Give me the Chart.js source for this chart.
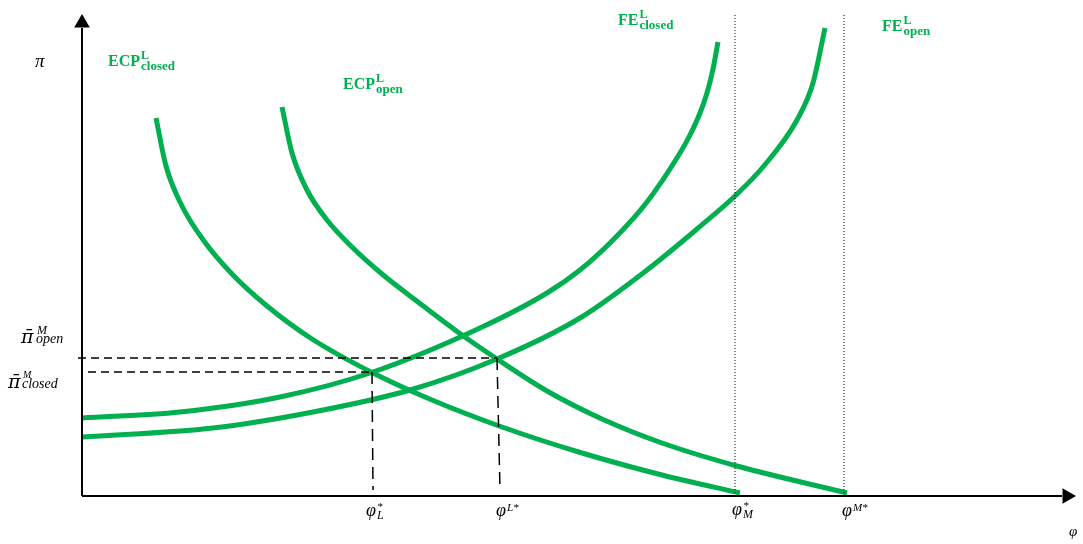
<!DOCTYPE html>
<html>
<head>
<meta charset="utf-8">
<script src="https://cdn.jsdelivr.net/npm/chart.js@4"></script>
<style>
  html, body { margin: 0; padding: 0; background: #fff; overflow: hidden; }
  #wrap { width: 1083px; height: 544px; position: relative; }
  canvas { display: block; }
</style>
</head>
<body>
<div id="wrap"><canvas id="myChart"></canvas></div>
<script>
// curve values (x = phi, y = pi, arbitrary units)
const curveNames = ["ECP closed", "ECP open", "FE closed", "FE open"];

const ecpClosedX = [74, 84, 100, 122, 150, 185, 230, 291, 350, 420, 500, 580, 658];
const ecpClosedY = [378, 330, 290, 255, 222, 190, 157, 123, 96, 69, 43, 21, 3];

const ecpOpenX = [200, 210, 225, 245, 270, 300, 340, 380, 415, 465, 520, 580, 655, 765];
const ecpOpenY = [389, 343, 306, 276, 249, 222, 191, 161, 137, 105, 77, 53, 30, 3];

const feClosedX = [0, 98, 198, 291, 398, 465, 498, 531, 565, 598, 608, 618, 625, 631, 636];
const feClosedY = [78, 84, 99, 124, 168, 203, 226, 256, 294, 343, 361, 383, 403, 427, 454];

const feOpenX = [0, 131, 231, 328, 415, 498, 565, 615, 653, 681, 715, 731, 743];
const feOpenY = [59, 68, 84, 106, 137, 178, 226, 267, 300, 329, 376, 413, 468];

// equilibrium values (guides)
const phiL = 290, phiLStar = 416, phiM = 653, phiMStar = 762;
const piClosed = 124, piOpen = 138;
const axisTopY = 468, axisRightX = 980;

const green = "#00B050";

function pts(xs, ys) {
  return xs.map((x, i) => ({ x: x, y: ys[i] }));
}

function curve(label, xs, ys) {
  return {
    label: label,
    data: pts(xs, ys),
    borderColor: green,
    borderWidth: 5,
    pointRadius: 0,
    cubicInterpolationMode: "monotone",
    borderCapStyle: "butt",
    clip: false,
  };
}

function guide(data, dash, width) {
  return {
    data: data,
    borderColor: "#000",
    borderWidth: width,
    borderDash: dash,
    pointRadius: 0,
    tension: 0,
    clip: false,
  };
}

function txt(ctx, s, x, y, font, color) {
  ctx.font = font;
  ctx.fillStyle = color;
  ctx.fillText(s, x, y);
  return ctx.measureText(s).width;
}

// main text + superscript + subscript
function rich(ctx, x, y, color, mainFont, main, supFont, sup, supY, subFont, sub, subY, gap) {
  const w = txt(ctx, main, x, y, mainFont, color) + (gap || 0);
  if (sup) txt(ctx, sup, x + w, y + supY, supFont, color);
  if (sub) txt(ctx, sub, x + w, y + subY, subFont, color);
}

const labelPlugin = {
  id: "labels",
  afterDraw(chart) {
    const ctx = chart.ctx;
    ctx.save();
    ctx.textBaseline = "alphabetic";
    ctx.textAlign = "left";
    const gB = 'bold 16px "Liberation Serif"';
    const gS = 'bold 12px "Liberation Serif"';
    const gSub = 'bold 13px "Liberation Serif"';
    rich(ctx, 108, 66, green, gB, "ECP", gS, "L", -7, gSub, "closed", 4, 1);
    rich(ctx, 343, 89, green, gB, "ECP", gS, "L", -7, gSub, "open", 4, 1);
    rich(ctx, 618, 25, green, gB, "FE", gS, "L", -7, gSub, "closed", 4, 1);
    rich(ctx, 882, 31, green, gB, "FE", gS, "L", -7, gSub, "open", 4, 1);

    const it = (s) => 'italic ' + s + 'px "Liberation Serif"';
    const itD = (s) => 'italic ' + s + 'px "DejaVu Serif"';
    const k = "#000";
    txt(ctx, "\u03C0", 35, 67, it(19), k);

    txt(ctx, "\u03C0\u0304", 21, 343, itD(19), k);
    txt(ctx, "M", 37, 334, it(12), k);
    txt(ctx, "open", 36, 343, it(14), k);

    txt(ctx, "\u03C0\u0304", 8, 388, itD(19), k);
    txt(ctx, "M", 23, 378, it(10), k);
    txt(ctx, "closed", 22, 388, it(14), k);

    rich(ctx, 366, 516, k, it(18), "\u03C6", it(11), "*", -6, it(12), "L", 3, 1);
    rich(ctx, 496, 516, k, it(18), "\u03C6", it(11), "L*", -5, null, null, 0, 1);
    rich(ctx, 732, 515, k, it(18), "\u03C6", it(11), "*", -6, it(12), "M", 3, 1);
    rich(ctx, 842, 516, k, it(18), "\u03C6", it(11), "M*", -5, null, null, 0, 1);
    txt(ctx, "\u03C6", 1069, 536, it(15), k);
    ctx.restore();
  },
};

const ctx = document.getElementById("myChart");

new Chart(ctx, {
  type: "line",
  data: {
    datasets: [
      // axes
      guide([{ x: 0, y: 0 }, { x: 0, y: axisTopY }], [], 2),
      guide([{ x: 0, y: 0 }, { x: axisRightX, y: 0 }], [], 2),
      {
        data: [{ x: 0, y: axisTopY + 5 }, { x: axisRightX + 5, y: 0 }],
        showLine: false,
        pointStyle: "triangle",
        pointRadius: 9,
        pointRotation: [0, 90],
        pointBackgroundColor: "#000",
        pointBorderColor: "#000",
        pointBorderWidth: 0,
        clip: false,
      },
      // dotted verticals
      guide([{ x: phiM, y: 3 }, { x: phiM, y: 481 }], [1, 2], 1),
      guide([{ x: phiMStar, y: 3 }, { x: phiMStar, y: 481 }], [1, 2], 1),
      // dashed guides
      guide([{ x: -4, y: piOpen }, { x: phiLStar - 1, y: piOpen }], [8, 5], 1.5),
      guide([{ x: phiLStar - 1, y: piOpen }, { x: phiLStar + 2, y: 6 }], [12, 7], 1.5),
      guide([{ x: 6, y: piClosed }, { x: phiL, y: piClosed }], [8, 5], 1.5),
      guide([{ x: phiL, y: piClosed }, { x: phiL + 1, y: 6 }], [12, 7], 1.5),
      // curves
      curve(curveNames[0], ecpClosedX, ecpClosedY),
      curve(curveNames[1], ecpOpenX, ecpOpenY),
      curve(curveNames[2], feClosedX, feClosedY),
      curve(curveNames[3], feOpenX, feOpenY),
    ],
  },
  options: {
    responsive: true,
    maintainAspectRatio: false,
    animation: false,
    layout: { autoPadding: false, padding: { left: 82, right: 0, top: 0, bottom: 48 } },
    scales: {
      x: { type: "linear", min: 0, max: 1001, display: false },
      y: { type: "linear", min: 0, max: 496, display: false },
    },
    plugins: {
      legend: { display: false },
      tooltip: { enabled: false },
    },
  },
  plugins: [labelPlugin],
});
</script>
</body>
</html>
